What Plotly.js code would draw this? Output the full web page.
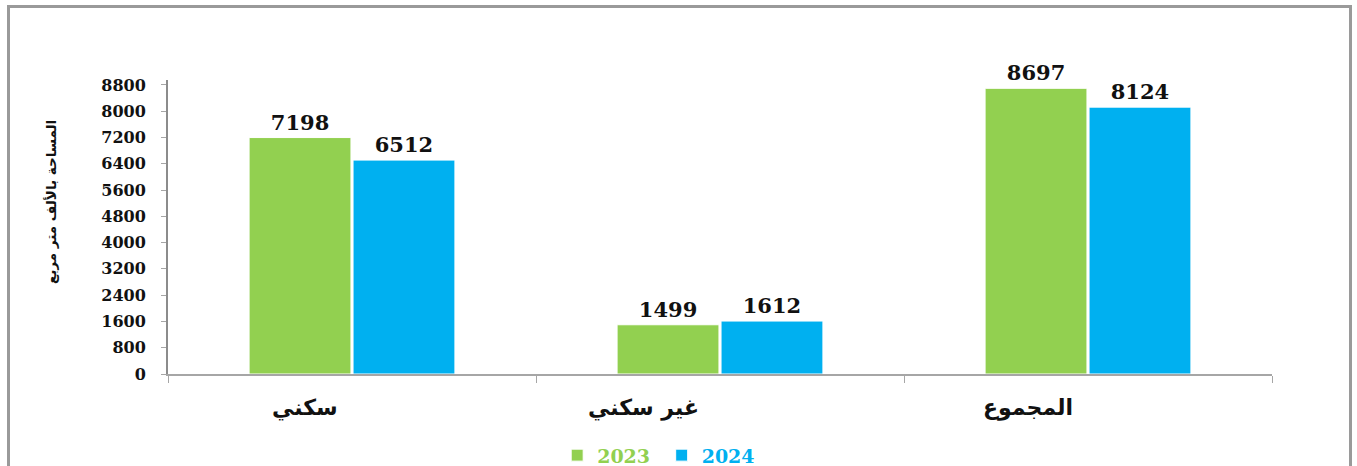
<!DOCTYPE html>
<html>
<head>
<meta charset="utf-8">
<script src="https://cdn.plot.ly/plotly-3.0.1.min.js"></script>
<style>
html,body{margin:0;padding:0;background:#fff;overflow:hidden;}
#frame{position:absolute;left:7px;top:5px;width:1345px;height:480px;border:3px solid #9a9a9a;box-sizing:border-box;pointer-events:none;z-index:5;}
#chart{position:absolute;left:0;top:0;width:1357px;height:466px;}
</style>
</head>
<body>
<div id="chart"></div>
<div id="frame"></div>
<script>
const categories = ['سكني', 'غير سكني', 'المجموع'];
const seriesNames = ['2023', '2024'];
const values2023 = [7198, 1499, 8697];
const values2024 = [6512, 1612, 8124];
const yTickVals = [0, 800, 1600, 2400, 3200, 4000, 4800, 5600, 6400, 7200, 8000, 8800];
const yTitle = 'المساحة بالألف متر مربع';

const green = '#92D050', blue = '#00B0F0';
const labelFont = {family: 'DejaVu Serif', size: 21, color: '#111', weight: 'bold'};
// horizontal offsets (px) of the category captions relative to category centres
const captionShift = [-47, -77, -60];

const traces = [
  {type: 'bar', name: seriesNames[0], x: categories, y: values2023,
   marker: {color: green, line: {color: '#ffffff', width: 1}},
   text: values2023.map(String), textposition: 'outside', cliponaxis: false,
   texttemplate: '%{text}', textfont: labelFont, legend: 'legend'},
  {type: 'bar', name: seriesNames[1], x: categories, y: values2024,
   marker: {color: blue, line: {color: '#ffffff', width: 1}},
   text: values2024.map(String), textposition: 'outside', cliponaxis: false,
   texttemplate: '%{text}', textfont: labelFont, legend: 'legend2'}
];

const legendCommon = {yref: 'container', xref: 'container', y: 0.023, xanchor: 'left', yanchor: 'middle',
  orientation: 'h', bgcolor: 'rgba(0,0,0,0)', itemwidth: 30};

const annotations = categories.map((c, i) => ({
  x: c, xref: 'x', y: 0, yref: 'paper', yanchor: 'middle', yshift: -34,
  xshift: captionShift[i], showarrow: false, text: c,
  font: {family: 'DejaVu Sans', size: 22, color: '#111', weight: 'bold'}
}));
annotations.push({
  text: yTitle, xref: 'paper', yref: 'paper', x: -0.106, y: 0.585,
  xanchor: 'center', yanchor: 'middle', textangle: -90, showarrow: false,
  font: {family: 'DejaVu Sans', size: 13.5, color: '#111', weight: 'bold'}
});

const layout = {
  width: 1357, height: 466,
  margin: {l: 168, r: 85, t: 80, b: 92},
  paper_bgcolor: '#fff', plot_bgcolor: '#fff',
  barmode: 'group', bargap: 0.435, bargroupgap: 0.02,
  showlegend: true,
  legend: Object.assign({}, legendCommon, {x: 0.4106,
    font: {family: 'DejaVu Serif', size: 19, color: green, weight: 'bold'}}),
  legend2: Object.assign({}, legendCommon, {x: 0.4876,
    font: {family: 'DejaVu Serif', size: 19, color: blue, weight: 'bold'}}),
  annotations: annotations,
  xaxis: {
    type: 'category', showgrid: false, zeroline: false,
    showline: true, linecolor: '#a6a6a6', linewidth: 2,
    ticks: 'outside', tickson: 'boundaries', ticklen: 7, tickcolor: '#a6a6a6', tickwidth: 1,
    showticklabels: false,
    automargin: false
  },
  yaxis: {
    range: [0, 8950], tickvals: yTickVals, ticktext: yTickVals.map(String),
    showgrid: false, zeroline: false,
    showline: true, linecolor: '#8c8c8c', linewidth: 2,
    ticks: 'outside', ticklen: 5, tickcolor: '#a6a6a6', tickwidth: 1,
    ticklabelstandoff: 12,
    tickfont: {family: 'DejaVu Serif', size: 16, color: '#111', weight: 'bold'},
    automargin: false
  }
};

Plotly.newPlot('chart', traces, layout, {displayModeBar: false, staticPlot: true});
</script>
</body>
</html>
